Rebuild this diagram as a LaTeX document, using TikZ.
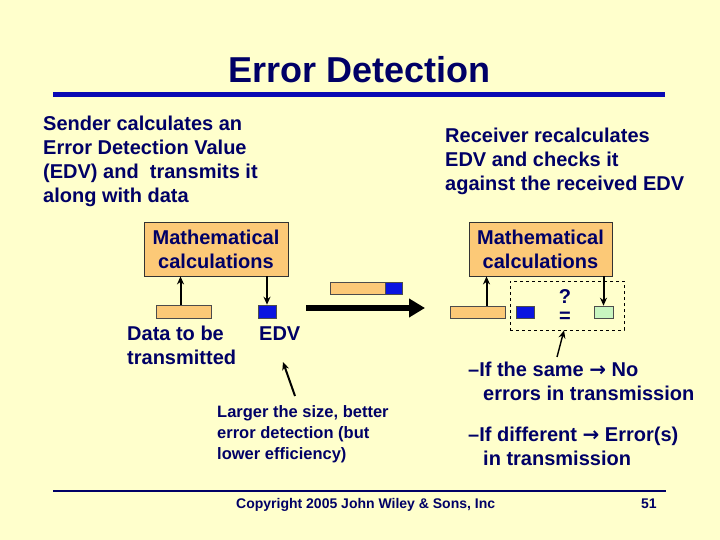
\documentclass[tikz,border=0pt]{standalone}
\usepackage{fontspec}
\setmainfont{Liberation Sans}
\newfontfamily\arrfont{DejaVu Sans}
\usetikzlibrary{arrows.meta}
\definecolor{bgc}{HTML}{FFFFCC}
\definecolor{navy}{HTML}{000066}
\definecolor{titleblue}{HTML}{0A0AB4}
\definecolor{orng}{HTML}{FCC977}
\definecolor{edvblue}{HTML}{0A14E0}
\definecolor{grn}{HTML}{C8F5C0}
\tikzset{
  txt/.style={inner sep=0pt, align=left, text=navy, font=\bfseries\fontsize{20}{24}\selectfont},
  smalltxt/.style={inner sep=0pt, align=left, text=navy, font=\bfseries\fontsize{16.5}{21}\selectfont},
  mathbox/.style={draw=black!80, line width=0.8pt, fill=orng, minimum width=144pt, minimum height=54pt, inner sep=0pt, align=center, text=navy, font=\bfseries\fontsize{20}{24}\selectfont},
  databar/.style={draw=black!70, line width=0.6pt, fill=orng, minimum width=55pt, minimum height=13pt, inner sep=0pt},
  edvsq/.style={draw=black!70, line width=0.6pt, fill=edvblue, minimum width=18pt, minimum height=13pt, inner sep=0pt},
  arr/.style={line width=2pt, -{Stealth[length=8pt,width=7pt]}},
}
\begin{document}
\begin{tikzpicture}[x=1pt,y=-1pt]
\useasboundingbox[fill=bgc] (0,0) rectangle (720,540);
% title
\node[anchor=base, inner sep=0pt, text=navy, font=\bfseries\fontsize{36}{40}\selectfont] (title) at (359.5,83) {Error Detection};
\draw[titleblue, line width=5pt] (53,95) -- (665,95);
% texts (base anchor = baseline of last line)
\node[txt, anchor=base west] (sender) at (43,203) {Sender calculates an\\Error Detection Value\\(EDV) and\ \ transmits it\\along with data};
\node[txt, anchor=base west] (receiver) at (445,191) {Receiver recalculates\\EDV and checks it\\against the received EDV};
% math boxes
\node[mathbox] (mathL) at (216,249) {Mathematical\\calculations};
\node[mathbox, minimum width=143pt] (mathR) at (540.5,249) {Mathematical\\calculations};
% sender side
\node[databar] (dataL) at (183.5,311.5) {};
\node[edvsq] (edvL) at (267,311.5) {};
\draw[arr] ([xshift=-3pt]dataL.north) -- ([xshift=-3pt]dataL.north |- mathL.south);
\draw[arr] (mathL.south -| edvL.north) -- (edvL.north);
\node[txt, anchor=base west] (datalab) at (127,364) {Data to be\\transmitted};
\node[txt, anchor=base west] (edvlab) at (259,340) {EDV};
% transmitted frame
\node[databar, minimum height=12pt] (sentData) at (357.5,288) {};
\node[edvsq, minimum height=12pt, minimum width=17pt, anchor=west] (sentEDV) at (sentData.east) {};
\coordinate (tx1) at (306,308);
\coordinate (tx2) at (425,308);
\draw[line width=6pt, -{Triangle[length=16pt,width=18pt]}] (tx1) -- (tx2);
% receiver side
\node[databar, minimum height=12pt] (dataR) at (477.5,312) {};
\node[edvsq, minimum height=12pt] (edvR) at (525,312) {};
\node[inner sep=0pt, anchor=base, text=navy, font=\bfseries\fontsize{20}{24}\selectfont] (qm) at (565,303) {?};
\node[inner sep=0pt, anchor=base, text=navy, font=\bfseries\fontsize{20}{24}\selectfont] (eqs) at (565,322) {=};
\node[draw=black!70, line width=0.6pt, fill=grn, minimum width=19pt, minimum height=12pt, inner sep=0pt] (grnsq) at (603.5,312) {};
\node[draw=black, dashed, line width=0.7pt, minimum width=114pt, minimum height=49pt, inner sep=0pt] (cmp) at (567,305.5) {};
\draw[arr] ([xshift=9pt]dataR.north) -- ([xshift=9pt]dataR.north |- mathR.south);
\draw[arr] (mathR.south -| grnsq.north) -- (grnsq.north);
% annotations
\coordinate (c1) at (557,357);
\draw[arr, line width=1.4pt] (c1) -- ([xshift=-3pt]cmp.south);
\coordinate (c2) at (295,396);
\coordinate (c3) at (283,362);
\draw[arr] (c2) -- (c3);
\node[smalltxt, anchor=base west] (larger) at (217,459) {Larger the size, better\\error detection (but\\lower efficiency)};
% bullets
\node[txt, anchor=base west] (b1) at (468,400) {–If the same {\arrfont\bfseries →} No\\\hspace*{15pt}errors in transmission};
\node[txt, anchor=base west] (b2) at (468,465) {–If different {\arrfont\bfseries →} Error(s)\\\hspace*{15pt}in transmission};
% footer
\draw[navy, line width=2pt] (53,491) -- (666,491);
\node[inner sep=0pt, anchor=base west, text=navy, font=\bfseries\fontsize{14}{16}\selectfont] (copy) at (236,508) {Copyright 2005 John Wiley \& Sons, Inc};
\node[inner sep=0pt, anchor=base west, text=navy, font=\bfseries\fontsize{14}{16}\selectfont] (pg) at (641,508) {51};
\end{tikzpicture}
\end{document}
